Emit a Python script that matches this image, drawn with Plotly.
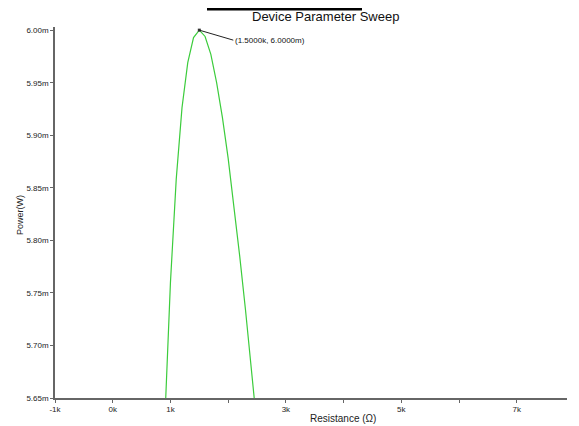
import plotly.graph_objects as go

# Data
resistance = [700, 800, 900, 1000, 1100, 1200, 1300, 1400, 1500, 1600, 1700, 1800,
              1900, 2000, 2100, 2200, 2300, 2400, 2500, 2600]
power = [5.225e-3, 5.444e-3, 5.625e-3, 5.760e-3, 5.858e-3, 5.926e-3, 5.969e-3, 5.993e-3,
         6.000e-3, 5.994e-3, 5.977e-3, 5.950e-3, 5.917e-3, 5.878e-3, 5.833e-3, 5.785e-3,
         5.734e-3, 5.680e-3, 5.625e-3, 5.567e-3]
peak_r = 1500
peak_p = 6.000e-3
peak_label = "(1.5000k, 6.0000m)"

x_tickvals = [-1000, 0, 1000, 2000, 3000, 4000, 5000, 6000, 7000]
x_ticktext = ["-1k", "0k", "1k", "", "3k", "", "5k", "", "7k"]
y_tickvals = [5.65e-3, 5.70e-3, 5.75e-3, 5.80e-3, 5.85e-3, 5.90e-3, 5.95e-3, 6.00e-3]
y_ticktext = ["5.65m", "5.70m", "5.75m", "5.80m", "5.85m", "5.90m", "5.95m", "6.00m"]

FONT = "Liberation Sans, Arial, sans-serif"

# page has an 8px body margin; plot area in window: x 55..567, y 27..398
PW, PH = 512, 371

fig = go.Figure()
fig.add_trace(go.Scatter(x=resistance, y=power, mode="lines",
                         line=dict(color="#3ccc3c", width=1.2), hoverinfo="x+y",
                         showlegend=False))
fig.add_trace(go.Scatter(x=[peak_r], y=[peak_p], mode="markers",
                         marker=dict(symbol="square", size=3, color="#333333"),
                         showlegend=False, cliponaxis=False))

fig.add_annotation(x=peak_r, y=peak_p, text=peak_label, showarrow=True,
                   arrowhead=0, arrowwidth=1, arrowcolor="#222222",
                   ax=34, ay=10, xanchor="left", yanchor="middle",
                   font=dict(family=FONT, size=8, color="#111111"))

fig.add_annotation(xref="paper", yref="paper", x=(325 - 55) / PW, y=1 + (27 - 17) / PH,
                   text="Device Parameter Sweep", showarrow=False,
                   xanchor="center", yanchor="middle",
                   font=dict(family=FONT, size=13, color="#111111"))
fig.add_annotation(xref="paper", yref="paper", x=(343 - 55) / PW, y=-(418 - 398) / PH,
                   text="Resistance (Ω)", showarrow=False,
                   xanchor="center", yanchor="middle",
                   font=dict(family=FONT, size=10, color="#222222"))
fig.add_annotation(xref="paper", yref="paper", x=-(55 - 20) / PW, y=(398 - 215) / PH,
                   text="Power(W)", showarrow=False, textangle=-90,
                   xanchor="center", yanchor="middle",
                   font=dict(family=FONT, size=9, color="#222222"))

fig.add_shape(type="line", xref="paper", yref="paper",
              x0=(207 - 55) / PW, x1=(362 - 55) / PW,
              y0=1 + 18 / PH, y1=1 + 18 / PH,
              line=dict(color="black", width=3))

fig.update_xaxes(range=[-1000, 7870], tickvals=x_tickvals, ticktext=x_ticktext,
                 showgrid=False, zeroline=False, showline=True, linecolor="#666666",
                 linewidth=1.5, ticks="outside", ticklen=3, tickcolor="#666666",
                 automargin=False,
                 tickfont=dict(family=FONT, size=8, color="#222222"))
fig.update_yaxes(range=[5.65e-3, 6.003e-3], tickvals=y_tickvals, ticktext=y_ticktext,
                 showgrid=False, zeroline=False, showline=True, linecolor="#666666",
                 linewidth=1.5, ticks="outside", ticklen=3, tickcolor="#666666",
                 automargin=False,
                 tickfont=dict(family=FONT, size=8, color="#222222"))

fig.update_layout(width=571, height=418, paper_bgcolor="white", plot_bgcolor="white",
                  margin=dict(l=47, r=12, t=19, b=28, autoexpand=False), showlegend=False)

fig.write_html("out.html")
